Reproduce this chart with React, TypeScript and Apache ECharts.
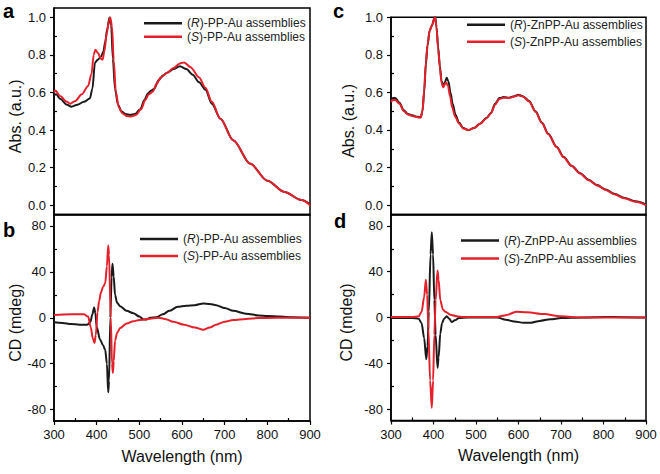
import React, { useEffect, useRef } from 'react';
import * as echarts from 'echarts';

const FONT = '"Liberation Sans", Arial, Helvetica, sans-serif';
const BLACK = '#1a1a1a';
const RED = '#e5202a';

// ---- tick values ----
const xTicks = [300, 400, 500, 600, 700, 800, 900];
const xMinorTicks = [350, 450, 550, 650, 750, 850];
const absTicks = [0, 0.2, 0.4, 0.6, 0.8, 1.0];
const absMinorTicks = [0.1, 0.3, 0.5, 0.7, 0.9];
const cdTicks = [-80, -40, 0, 40, 80];
const cdMinorTicks = [-60, -20, 20, 60];

// ---- series names ----
const namePPR = '(R)-PP-Au assemblies';
const namePPS = '(S)-PP-Au assemblies';
const nameZnR = '(R)-ZnPP-Au assemblies';
const nameZnS = '(S)-ZnPP-Au assemblies';

// ---- panel a: absorption, PP-Au ----
const aRWl = [300, 305, 315, 330, 341, 355, 370, 384, 390, 396, 403, 410, 416, 420, 425, 430, 434, 438, 443, 450, 458, 468, 478, 490, 502, 512, 520, 528, 535, 545, 555, 565, 580, 595, 610, 625, 640, 655, 670, 690, 720, 760, 800, 840, 880, 900];
const aRAbs = [0.585, 0.59, 0.565, 0.535, 0.524, 0.535, 0.55, 0.568, 0.62, 0.76, 0.775, 0.79, 0.82, 0.87, 0.94, 1.0, 0.96, 0.78, 0.62, 0.535, 0.5, 0.485, 0.48, 0.485, 0.51, 0.56, 0.595, 0.61, 0.62, 0.665, 0.69, 0.705, 0.725, 0.74, 0.725, 0.695, 0.655, 0.615, 0.54, 0.46, 0.346, 0.22, 0.13, 0.07, 0.027, 0.005];
const aSWl = [300, 303, 315, 330, 338, 350, 365, 380, 388, 393, 397, 403, 410, 414, 418, 424, 429, 432, 436, 440, 445, 452, 460, 470, 480, 492, 504, 514, 522, 532, 540, 550, 565, 580, 595, 605, 620, 640, 655, 670, 690, 720, 760, 800, 840, 880, 900];
const aSAbs = [0.6, 0.61, 0.58, 0.55, 0.54, 0.555, 0.59, 0.635, 0.7, 0.8, 0.828, 0.81, 0.78, 0.775, 0.82, 0.92, 0.985, 1.0, 0.95, 0.77, 0.6, 0.52, 0.49, 0.475, 0.472, 0.48, 0.51, 0.56, 0.59, 0.605, 0.645, 0.68, 0.705, 0.73, 0.755, 0.76, 0.735, 0.68, 0.625, 0.55, 0.46, 0.345, 0.22, 0.13, 0.07, 0.027, 0.0];

// ---- panel b: CD, PP-Au ----
const bRWl = [300, 320, 340, 360, 378, 385, 390, 394, 397, 400, 408, 415, 420, 424, 427, 429, 432, 435, 437, 440, 443, 448, 455, 470, 486, 500, 510, 517, 525, 540, 555, 570, 590, 610, 630, 650, 665, 680, 700, 720, 750, 780, 800, 830, 860, 900];
const bRCd = [-4, -4.5, -5.5, -6, -6, -4, 3, 9, 4, -8, -19, -24, -28, -40, -65, -55, 0, 35, 47, 36, 20, 13, 10, 6, 4, 1, -1.5, -1.5, 0, 0.5, 3, 6, 9.5, 10.5, 11, 12.5, 12, 11, 8.5, 6, 3.5, 2, 1.5, 1, 0.5, 0];
const bSWl = [300, 340, 370, 380, 386, 391, 395, 398, 402, 406, 410, 415, 420, 424, 427, 429, 433, 436, 438, 440, 443, 448, 455, 470, 486, 500, 520, 545, 560, 580, 605, 630, 650, 665, 680, 700, 720, 750, 780, 820, 900];
const bSCd = [2.5, 3, 3, 1, -8, -18, -22, -15, 5, 15, 22, 27, 30, 45, 63, 55, 0, -40, -48, -38, -20, -13, -9, -5, -3, -2, -1, 0, -1, -3.5, -6, -8.5, -10.5, -8.5, -6, -3.5, -2, -1, -0.3, 0, 0];

// ---- panel c: absorption, ZnPP-Au ----
const cRWl = [300, 305, 310, 320, 330, 340, 350, 362, 370, 374, 378, 382, 386, 391, 397, 402, 404, 407, 411, 415, 419, 423, 427, 431, 435, 440, 445, 452, 460, 470, 482, 495, 510, 525, 535, 545, 555, 565, 578, 590, 600, 610, 625, 640, 655, 670, 690, 706, 725, 745, 765, 785, 805, 825, 850, 875, 900];
const cRAbs = [0.56, 0.57, 0.57, 0.545, 0.505, 0.485, 0.478, 0.47, 0.468, 0.5, 0.6, 0.75, 0.85, 0.93, 0.96, 0.995, 1.0, 0.95, 0.84, 0.74, 0.66, 0.635, 0.655, 0.678, 0.66, 0.6, 0.54, 0.48, 0.44, 0.41, 0.4, 0.41, 0.435, 0.465, 0.49, 0.54, 0.57, 0.575, 0.572, 0.58, 0.587, 0.58, 0.555, 0.5, 0.44, 0.38, 0.31, 0.257, 0.21, 0.17, 0.135, 0.107, 0.083, 0.06, 0.038, 0.02, 0.003];
const cSWl = [300, 305, 310, 320, 330, 340, 350, 362, 370, 374, 378, 382, 386, 391, 397, 402, 404, 407, 411, 415, 419, 423, 427, 430, 434, 439, 444, 451, 460, 470, 482, 495, 510, 525, 535, 545, 555, 565, 578, 590, 600, 610, 625, 640, 655, 670, 690, 706, 725, 745, 765, 785, 805, 825, 850, 875, 900];
const cSAbs = [0.55, 0.56, 0.56, 0.54, 0.5, 0.482, 0.475, 0.468, 0.466, 0.5, 0.61, 0.76, 0.855, 0.93, 0.96, 0.995, 1.0, 0.945, 0.83, 0.73, 0.65, 0.628, 0.645, 0.652, 0.635, 0.58, 0.52, 0.47, 0.435, 0.408, 0.4, 0.41, 0.433, 0.463, 0.488, 0.535, 0.565, 0.572, 0.57, 0.578, 0.585, 0.578, 0.552, 0.497, 0.437, 0.377, 0.308, 0.255, 0.208, 0.168, 0.133, 0.105, 0.081, 0.058, 0.036, 0.018, 0.0];

// ---- panel d: CD, ZnPP-Au ----
const dRWl = [300, 350, 365, 372, 378, 383, 386, 389, 393, 396, 399, 402, 405, 409.5, 412, 416, 420, 425, 431, 437, 443, 450, 460, 480, 550, 570, 590, 612, 630, 650, 675, 700, 750, 800, 850, 900];
const dRCd = [-0.5, -0.5, -1, -5, -18, -36.5, -25, 5, 55, 74.5, 55, 15, -15, -44, -35, -14, -5, -1, 1, -1, -4, -2.5, -0.5, 0, 0, -2, -3.5, -4.6, -4.5, -3, -1.5, -0.5, 0, 0.5, 0.3, 0];
const dSWl = [300, 350, 365, 372, 378, 382, 385, 388, 392, 396, 399, 402, 405, 409.5, 412, 416, 422, 428, 440, 455, 470, 550, 570, 595, 620, 660, 700, 750, 900];
const dSCd = [0.5, 0.5, 1, 5, 18, 33, 20, -10, -55, -79, -55, -15, 15, 41, 33, 15, 7, 5, 2.5, 1, 0.5, 0.5, 2, 5, 4.5, 3, 1, 0, 0];

const zip = (xs: number[], ys: number[]) => xs.map((x, i) => [x, ys[i]]);

const axisLineStyle = { color: '#000', width: 1.5 };
const labelStyle = { color: '#111', fontSize: 13, fontFamily: FONT };
const nameStyle = { color: '#111', fontSize: 16, fontFamily: FONT };

function xMajor(gridIndex: number, withLabels: boolean) {
  return {
    type: 'value', gridIndex, min: 300, max: 900, interval: 100, position: 'bottom',
    axisLine: { show: true, onZero: false, lineStyle: axisLineStyle },
    axisTick: { show: withLabels, inside: false, length: 4, customValues: xTicks, lineStyle: { color: '#000', width: 1.2 } },
    axisLabel: { show: withLabels, margin: 7, ...labelStyle, formatter: (v: number) => String(v) },
    splitLine: { show: false },
    name: withLabels ? 'Wavelength (nm)' : '',
    nameLocation: 'middle', nameGap: 27, nameTextStyle: nameStyle,
  };
}
function xMinor(gridIndex: number) {
  return {
    type: 'value', gridIndex, min: 300, max: 900, position: 'bottom',
    axisLine: { show: false, onZero: false },
    axisTick: { show: true, inside: true, length: 3, customValues: xMinorTicks, lineStyle: { color: '#000', width: 1.2 } },
    axisLabel: { show: false },
    splitLine: { show: false },
  };
}
function yMajor(gridIndex: number, min: number, max: number, ticks: number[], digits: number, name: string, nameGap: number) {
  return {
    type: 'value', gridIndex, min, max, position: 'left',
    axisLine: { show: true, onZero: false, lineStyle: axisLineStyle },
    axisTick: { show: true, inside: false, length: 4, customValues: ticks, lineStyle: { color: '#000', width: 1.2 } },
    axisLabel: { show: true, margin: 8, customValues: ticks, ...labelStyle, formatter: (v: number) => v.toFixed(digits) },
    splitLine: { show: false },
    name, nameLocation: 'middle', nameGap, nameTextStyle: { ...nameStyle, padding: [0, 10, 0, 0] },
  };
}
function yMinor(gridIndex: number, min: number, max: number, ticks: number[]) {
  return {
    type: 'value', gridIndex, min, max, position: 'left',
    axisLine: { show: false, onZero: false },
    axisTick: { show: true, inside: true, length: 3, customValues: ticks, lineStyle: { color: '#000', width: 1.2 } },
    axisLabel: { show: false },
    splitLine: { show: false },
  };
}
function line(name: string, color: string, data: number[][], xAxisIndex: number, yAxisIndex: number) {
  return {
    type: 'line', name, data, xAxisIndex, yAxisIndex,
    symbol: 'none', showSymbol: false, smooth: 0.3, smoothMonotone: 'x',
    lineStyle: { color, width: 2 }, itemStyle: { color },
  };
}
function legend(names: string[], left: number, top: number, gap: number) {
  return {
    data: names, orient: 'vertical', left, top, icon: 'rect', itemWidth: 38, itemHeight: 2.4, itemGap: gap,
    selectedMode: false,
    formatter: (n: string) => {
      const m = n.match(/^\((\w)\)(.*)$/);
      return m ? `({it|${m[1]}})${m[2]}` : n;
    },
    textStyle: {
      color: '#222', fontSize: 12, fontFamily: FONT,
      rich: { it: { fontStyle: 'italic', color: '#222', fontSize: 12, fontFamily: FONT } },
    },
  };
}
function letter(t: string, x: number, y: number) {
  return {
    type: 'text', x, y,
    style: { text: t, fontSize: 20, fontWeight: 'bold', fontFamily: FONT, fill: '#000', align: 'left', verticalAlign: 'top' },
  };
}

export default function App() {
  const ref = useRef<HTMLDivElement>(null);
  useEffect(() => {
    if (!ref.current) return;
    const chart = echarts.init(ref.current, undefined, { renderer: 'svg' });
    const gridBase = { show: true, borderColor: '#000', borderWidth: 1.5, backgroundColor: 'transparent', containLabel: false };
    chart.setOption({
      animation: false,
      backgroundColor: '#fff',
      grid: [
        { ...gridBase, left: 54, top: 8, width: 256, height: 206.5 },
        { ...gridBase, left: 54, top: 214.5, width: 256, height: 206.5 },
        { ...gridBase, left: 391, top: 17.3, width: 255, height: 197.2 },
        { ...gridBase, left: 391, top: 214.5, width: 255, height: 206 },
      ],
      xAxis: [
        xMajor(0, false), // 0
        xMajor(1, true), // 1
        xMinor(1), // 2
        xMajor(2, false), // 3
        xMajor(3, true), // 4
        xMinor(3), // 5
      ],
      yAxis: [
        yMajor(0, -0.05, 1.05, absTicks, 1, 'Abs. (a.u.)', 31), // 0
        yMinor(0, -0.05, 1.05, absMinorTicks), // 1
        yMajor(1, -90, 90, cdTicks, 0, 'CD (mdeg)', 30.5), // 2
        yMinor(1, -90, 90, cdMinorTicks), // 3
        yMajor(2, -0.05, 1.0, absTicks, 1, 'Abs. (a.u.)', 34.5), // 4
        yMinor(2, -0.05, 1.0, absMinorTicks), // 5
        yMajor(3, -90, 90, cdTicks, 0, 'CD (mdeg)', 36.5), // 6
        yMinor(3, -90, 90, cdMinorTicks), // 7
      ],
      legend: [
        legend([namePPR, namePPS], 139, 12.2, 1.5),
        legend([namePPR, namePPS], 135, 228, 5),
        legend([nameZnR, nameZnS], 462, 13.7, 5),
        legend([nameZnR, nameZnS], 456, 229.5, 6),
      ],
      series: [
        line(namePPR, BLACK, zip(aRWl, aRAbs), 0, 0),
        line(namePPS, RED, zip(aSWl, aSAbs), 0, 0),
        line(namePPR, BLACK, zip(bRWl, bRCd), 1, 2),
        line(namePPS, RED, zip(bSWl, bSCd), 1, 2),
        line(nameZnR, BLACK, zip(cRWl, cRAbs), 3, 4),
        line(nameZnS, RED, zip(cSWl, cSAbs), 3, 4),
        line(nameZnR, BLACK, zip(dRWl, dRCd), 4, 6),
        line(nameZnS, RED, zip(dSWl, dSCd), 4, 6),
      ],
      graphic: [
        letter('a', 3, 0.5),
        letter('b', 3, 220),
        letter('c', 333, 0.5),
        letter('d', 334, 211),
      ],
    });
    return () => chart.dispose();
  }, []);
  return <div ref={ref} style={{ position: 'absolute', left: 0, top: 0, width: 660, height: 474, background: '#fff' }} />;
}
